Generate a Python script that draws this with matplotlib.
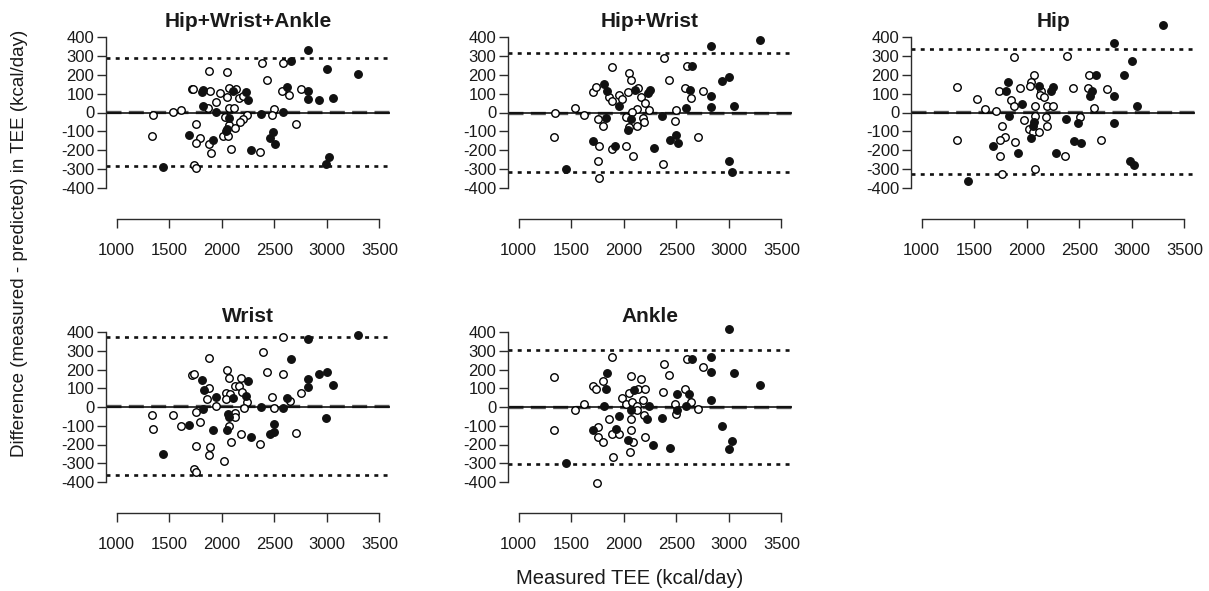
import matplotlib
matplotlib.use("Agg")
import matplotlib.pyplot as plt

plt.rcParams["font.family"] = ["Liberation Sans", "DejaVu Sans"]

# panel titles
titles = ["Hip+Wrist+Ankle", "Hip+Wrist", "Hip", "Wrist", "Ankle"]

# Hip+Wrist+Ankle
hwa_fill_x = [2825, 2657, 3000, 3292, 2619, 2825, 2825, 2927, 3054, 1825, 1809, 2111, 2228, 2254, 1819,
              1946, 2066, 2054, 2041, 2371, 2581, 2492, 2460, 2508, 1692, 1921, 2276, 3019, 2990, 1438]
hwa_fill_y = [331, 275, 231, 204, 137, 116, 72, 67, 79, 120, 107, 116, 107, 67, 32,
              2, -28, -86, -100, -7, 2, -104, -134, -169, -118, -148, -201, -236, -272, -289]
hwa_open_x = [2387, 2587, 1882, 2047, 2428, 1714, 1730, 1889, 1984, 2073, 2136, 2047, 1946, 2168, 2206,
              2571, 2644, 2755, 1867, 2073, 2120, 1539, 1612, 1349, 2501, 2479, 2238, 2032, 2206, 2174,
              2073, 2127, 1755, 2708, 1333, 1793, 1755, 1882, 2016, 2057, 2086, 1895, 2365, 1739, 1755]
hwa_open_y = [264, 264, 222, 217, 173, 125, 125, 113, 104, 130, 125, 81, 55, 76, 90,
              113, 95, 125, 25, 25, 25, 5, 14, -12, 18, -12, -11, -25, -34, -51,
              -64, -81, -60, -60, -122, -136, -162, -166, -122, -127, -194, -215, -210, -277, -295]

# Hip+Wrist
hw_fill_x = [2832, 2654, 2632, 2997, 2933, 2832, 2832, 2594, 3044, 1813, 1838, 1955, 2108, 2251, 2235,
             2066, 1828, 2362, 2044, 1705, 1917, 2289, 2441, 2498, 2514, 2997, 3028, 1447, 3300]
hw_fill_y = [354, 249, 120, 190, 169, 85, 28, 25, 35, 152, 116, 35, 120, 120, 102,
             -34, -30, -16, -95, -152, -180, -187, -145, -117, -162, -259, -318, -302, 385]
hw_open_x = [2384, 1886, 2054, 2066, 2435, 2600, 1711, 1733, 1863, 1886, 1955, 1981, 2044, 2140, 2165,
             2203, 2244, 2130, 2076, 2022, 2187, 2194, 2124, 2051, 1800, 1759, 1536, 1622, 1346, 1340,
             1762, 1752, 1762, 1886, 2022, 2092, 2371, 2492, 2498, 2638, 2584, 2752, 2702]
hw_open_y = [287, 243, 208, 173, 173, 249, 111, 137, 81, 60, 93, 72, 111, 130, 81,
             49, 14, 19, 2, -25, -28, -51, -74, -78, -74, -34, 25, -12, -4, -131,
             -180, -258, -348, -192, -180, -228, -272, -46, 14, 76, 130, 116, -131]

# Hip
hip_fill_x = [3299, 2827, 3003, 2929, 2658, 2603, 2619, 2833, 3050, 2833, 2983, 3018, 1821, 1802, 1827,
              1955, 2115, 2227, 2249, 2067, 2057, 2045, 2370, 2488, 2450, 2514, 2274, 1917, 1684, 1444]
hip_fill_y = [465, 367, 275, 199, 199, 90, 113, 90, 35, -57, -259, -280, 160, 116, -21,
              46, 143, 116, 137, -51, -74, -134, -34, -57, -152, -162, -215, -215, -178, -365]
hip_open_x = [1882, 2386, 2067, 2041, 2035, 2140, 2124, 2163, 1939, 1732, 1850, 1875, 1530, 1604, 1706,
              1339, 1339, 1764, 1796, 1748, 1748, 1764, 1891, 1971, 2019, 2061, 2115, 2077, 2077, 2179,
              2195, 2195, 2249, 2077, 2361, 2440, 2504, 2594, 2587, 2642, 2760, 2706]
hip_open_y = [293, 298, 201, 160, 143, 116, 95, 81, 130, 116, 67, 37, 72, 19, 10,
              137, -145, -74, -131, -145, -233, -328, -157, -39, -86, -104, -101, -21, 32, -25,
              -69, 32, 32, -298, -228, 130, -25, 201, 130, 25, 125, -148]

# Wrist
wr_fill_x = [3292, 2825, 2657, 3000, 2921, 3054, 2825, 2825, 2619, 2254, 1809, 1832, 1946, 2105, 2228,
             1819, 2063, 2073, 2371, 2581, 2501, 2460, 2498, 2990, 1692, 1921, 2047, 2276, 1438]
wr_fill_y = [382, 364, 258, 188, 174, 116, 148, 107, 46, 139, 146, 89, 53, 46, 59,
             -12, -39, -51, 0, -4, -89, -142, -133, -60, -98, -124, -124, -160, -252]
wr_open_x = [2587, 2390, 1882, 2047, 2428, 2578, 1714, 1736, 2073, 2184, 1882, 2041, 2079, 2127, 2168,
             2190, 1857, 2041, 2238, 2476, 2651, 2755, 1946, 2212, 2501, 2127, 2127, 1752, 1333, 1349,
             1539, 1612, 1793, 2073, 2184, 2086, 2365, 2708, 1755, 1889, 1879, 2022, 1739, 1755]
wr_open_y = [375, 295, 260, 196, 188, 174, 169, 174, 153, 153, 103, 76, 71, 112, 112,
             80, 41, 41, 27, 53, 32, 76, 4, -4, -4, -30, -53, -25, -44, -115,
             -44, -101, -80, -101, -146, -187, -196, -137, -208, -213, -258, -288, -329, -345]

# Ankle
an_fill_x = [3000, 2832, 2654, 2832, 3044, 2625, 2505, 2832, 2594, 2511, 2362, 2441, 2933, 3028, 2997,
             1838, 1828, 1813, 2098, 2244, 2066, 1955, 2219, 1927, 2044, 2282, 1705, 1447, 3300]
an_fill_y = [414, 268, 254, 186, 179, 67, 67, 39, 5, -18, -56, -219, -102, -179, -223,
             181, 98, 4, 93, 5, -16, -47, -65, -118, -175, -205, -123, -298, 115]
an_open_x = [1892, 2384, 2435, 2600, 2752, 2066, 2165, 1800, 1711, 1733, 2140, 2203, 2051, 2187, 1981,
             2022, 2076, 2124, 2130, 2371, 2587, 2638, 2489, 2498, 2702, 1622, 1536, 1340, 1340, 1863,
             1759, 1759, 1800, 1886, 1955, 2066, 2066, 2194, 2092, 2203, 2060, 1902, 1743]
an_open_y = [268, 228, 172, 256, 216, 167, 151, 137, 111, 97, 97, 97, 75, 40, 46,
             14, 26, 5, -16, 81, 97, 26, 18, -39, -9, 18, -18, 158, -123, -65,
             -109, -161, -188, -144, -144, -65, -123, -42, -188, -161, -240, -267, -403]

# mean bias and limits of agreement per panel
bias = [2, 0, 4, 6, 0]
upper_loa = [290, 318, 338, 375, 302]
lower_loa = [-286, -318, -328, -362, -305]

panels = [
    (hwa_fill_x, hwa_fill_y, hwa_open_x, hwa_open_y),
    (hw_fill_x, hw_fill_y, hw_open_x, hw_open_y),
    (hip_fill_x, hip_fill_y, hip_open_x, hip_open_y),
    (wr_fill_x, wr_fill_y, wr_open_x, wr_open_y),
    (an_fill_x, an_fill_y, an_open_x, an_open_y),
]

x_ticks = [1000, 1500, 2000, 2500, 3000, 3500]
y_ticks = [400, 300, 200, 100, 0, -100, -200, -300, -400]

W, H = 1209, 591
# plot region in pixels: left, top, bottom
lefts = [106, 508, 911, 106, 508]
tops = [31, 31, 31, 326, 326]
bottoms = [194, 194, 194, 488, 488]
PW = 284

AX_COL = "#2b2b2b"
FS = 12

fig = plt.figure(figsize=(W / 100, H / 100), dpi=100)

for i, (fx, fy, ox, oy) in enumerate(panels):
    l, t, b = lefts[i], tops[i], bottoms[i]
    ax = fig.add_axes([l / W, 1 - b / H, PW / W, (b - t) / H])
    ax.set_xlim(900, 3600)
    ax.set_ylim(-432, 432)

    ax.axhline(bias[i], color="#555555", lw=2.4, ls=(0, (4.5, 2.2)), zorder=1)
    ax.axhline(0, color="black", lw=1.1, zorder=2)
    ax.axhline(upper_loa[i], color="#111111", lw=1.9, ls=(0, (1.5, 2.0)), zorder=1)
    ax.axhline(lower_loa[i], color="#111111", lw=1.9, ls=(0, (1.5, 2.0)), zorder=1)

    ax.plot(ox, oy, "o", ms=5.4, mfc="white", mec="black", mew=1.0, ls="none",
            clip_on=False, zorder=3)
    ax.plot(fx, fy, "o", ms=5.4, mfc="#111111", mec="#111111", mew=1.0, ls="none",
            clip_on=False, zorder=4)

    for side in ("top", "right"):
        ax.spines[side].set_visible(False)
    ax.spines["left"].set_bounds(-400, 400)
    ax.spines["bottom"].set_bounds(1000, 3500)
    ax.spines["bottom"].set_position(("outward", 18))
    for side in ("left", "bottom"):
        ax.spines[side].set_color(AX_COL)
        ax.spines[side].set_linewidth(1.0)

    ax.set_xticks(x_ticks)
    ax.set_yticks(y_ticks)
    ax.set_yticklabels([str(v) for v in y_ticks])
    ax.tick_params(axis="both", length=6.5, width=1.0, color=AX_COL,
                   labelsize=FS, labelcolor="#1a1a1a")
    ax.tick_params(axis="x", pad=11)
    ax.tick_params(axis="y", pad=2)

    ax.set_title(titles[i], fontsize=15, fontweight="bold", pad=2, color="#1a1a1a")

fig.text(630 / W, 1 - 578 / H, "Measured TEE (kcal/day)", ha="center", va="center",
         fontsize=14.5, color="#1a1a1a")
fig.text(20 / W, 1 - 243 / H, "Difference (measured - predicted) in TEE (kcal/day)",
         ha="center", va="center", rotation=90, fontsize=13.5, color="#1a1a1a")

fig.savefig("out.png", dpi=100)
